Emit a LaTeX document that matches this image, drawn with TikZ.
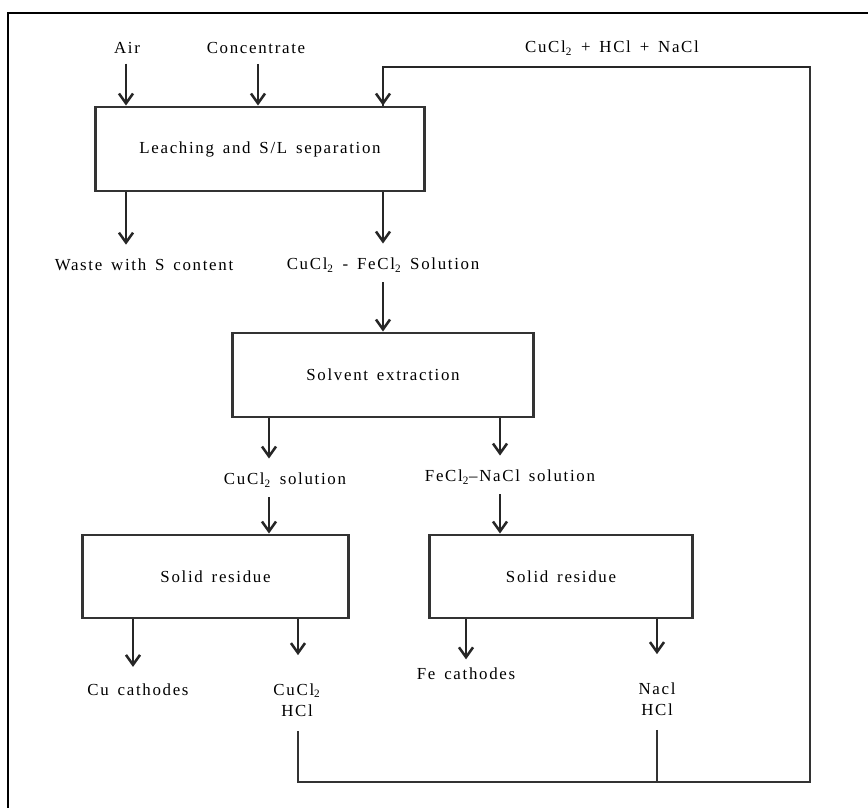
\documentclass[tikz,border=0pt]{standalone}
\usepackage{fontspec}
\setmainfont{Liberation Serif}[LetterSpace=10,WordSpace=1.5]
\usetikzlibrary{arrows.meta,positioning}

\begin{document}
\begin{tikzpicture}[
    x=0.025cm, y=-0.025cm,
    procbox/.style={rectangle, draw=black!80, line width=2.1pt, fill=white,
                    minimum height=2.1cm, inner sep=0pt, font=\fontsize{12}{14}\selectfont},
    lbl/.style={font=\fontsize{12}{14}\selectfont, align=center, inner sep=2pt},
    flow/.style={-{Straight Barb[length=7pt,width=10pt,line width=1.8pt]},
                 line width=1.9pt, black!85},
    feed/.style={line width=1.9pt, black!80}
  ]
    \useasboundingbox (0,0) rectangle (868,808);
    \draw[line width=1.5pt] (8,808) -- (8,13) -- (868,13);

    % inputs
    \node[lbl] (air) at (127,48) {Air};
    \node[lbl] (conc) at (256,48) {Concentrate};
    \node[lbl] (recyc) at (612,48) {CuCl\textsubscript{2} + HCl + NaCl};

    % process boxes
    \node[procbox, minimum width=8.2cm] (leach) at (260,149) {Leaching and S/L separation};
    \node[procbox, minimum width=7.5cm] (solvx) at (383,375) {Solvent extraction};
    \node[procbox, minimum width=6.625cm, minimum height=2.075cm] (resA) at (215.5,576.5) {Solid residue};
    \node[procbox, minimum width=6.55cm, minimum height=2.075cm] (resB) at (561,576.5) {Solid residue};

    % streams
    \node[lbl] (waste) at (144,265) {Waste with S content};
    \node[lbl] (cufe) at (383,265) {CuCl\textsubscript{2} - FeCl\textsubscript{2} Solution};
    \node[lbl] (cusol) at (285,480) {CuCl\textsubscript{2} solution};
    \node[lbl] (fesol) at (510,477) {FeCl\textsubscript{2}--NaCl solution};
    \node[lbl] (cucath) at (138,690) {Cu cathodes};
    \node[lbl] (cuhcl) at (297,700) {CuCl\textsubscript{2}\\[1pt]HCl};
    \node[lbl] (fecath) at (466,674) {Fe cathodes};
    \node[lbl] (nahcl) at (657,699) {Nacl\\[1pt]HCl};

    % arrow columns
    \coordinate (cA) at (126,0);
    \coordinate (cB) at (258,0);
    \coordinate (cC) at (383,0);
    \coordinate (cD) at (269,0);
    \coordinate (cE) at (500,0);
    \coordinate (cF) at (133,0);
    \coordinate (cG) at (298,0);
    \coordinate (cH) at (466,0);
    \coordinate (cI) at (657,0);
    \coordinate (loopBR) at (810,782);
    \coordinate (loopTR) at (810,67);

    \draw[flow, shorten <=5pt] (air.south -| cA) -- (leach.north -| cA);
    \draw[flow, shorten <=5pt] (conc.south -| cB) -- (leach.north -| cB);
    \draw[flow] (leach.south -| cA) -- ([yshift=8pt]waste.north -| cA);
    \draw[flow] (leach.south -| cC) -- ([yshift=8pt]cufe.north -| cC);
    \draw[flow, shorten <=5pt] (cufe.south -| cC) -- (solvx.north -| cC);
    \draw[flow] (solvx.south -| cD) -- ([yshift=8pt]cusol.north -| cD);
    \draw[flow] (solvx.south -| cE) -- ([yshift=8pt]fesol.north -| cE);
    \draw[flow, shorten <=5pt] (cusol.south -| cD) -- (resA.north -| cD);
    \draw[flow, shorten <=5pt] (fesol.south -| cE) -- (resB.north -| cE);
    \draw[flow] (resA.south -| cF) -- ([yshift=10pt]cucath.north -| cF);
    \draw[flow] (resA.south -| cG) -- ([yshift=18pt]cuhcl.north -| cG);
    \draw[flow] (resB.south -| cH) -- ([yshift=4pt]fecath.north -| cH);
    \draw[flow] (resB.south -| cI) -- ([yshift=18pt]nahcl.north -| cI);

    % recycle loop
    \draw[feed, shorten <=8pt] (cuhcl.south -| cG) |- (loopBR) -- (loopTR) -| (leach.north -| cC);
    \draw[flow] (loopTR) -| (leach.north -| cC);
    \draw[feed, shorten <=8pt] (nahcl.south -| cI) -- (nahcl.south |- loopBR);
\end{tikzpicture}
\end{document}
